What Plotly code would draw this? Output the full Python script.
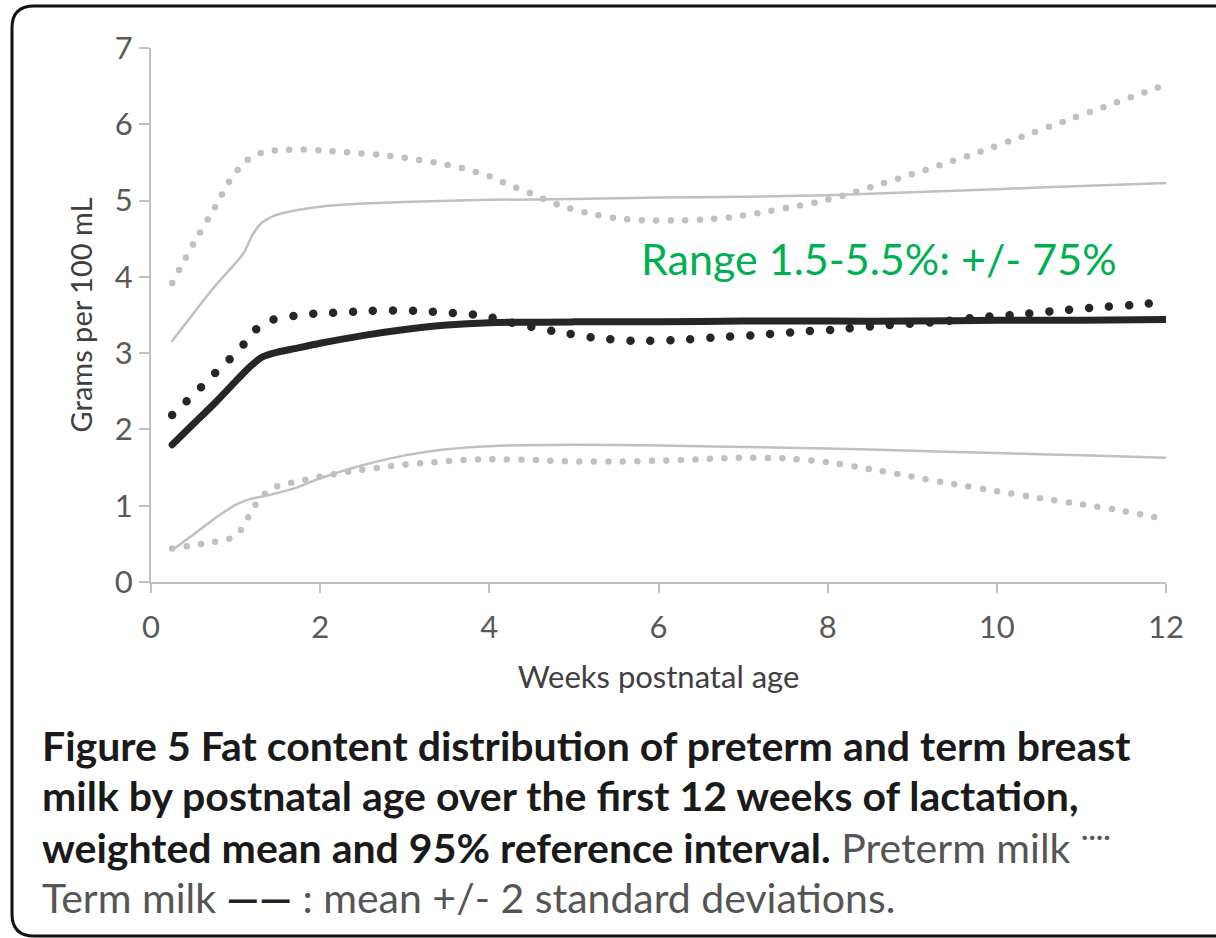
import plotly.graph_objects as go

# ---------------- data ----------------
term_mean_x = [0.25, 0.5, 0.75, 1.0, 1.15, 1.3, 1.45, 1.7, 2.0, 2.5, 3.0, 3.5, 4.0, 5, 6, 7, 8, 9, 10, 11, 12]
term_mean_y = [1.80, 2.07, 2.34, 2.63, 2.80, 2.94, 3.00, 3.06, 3.13, 3.23, 3.31, 3.37, 3.40, 3.41, 3.41, 3.42, 3.42, 3.42, 3.43, 3.43, 3.44]

term_upper_x = [0.25, 0.5, 0.75, 1.0, 1.1, 1.2, 1.3, 1.45, 1.7, 2.0, 2.5, 3, 4, 5, 6, 7, 8, 9, 10, 11, 12]
term_upper_y = [3.16, 3.52, 3.87, 4.18, 4.32, 4.55, 4.70, 4.80, 4.87, 4.92, 4.96, 4.98, 5.01, 5.02, 5.04, 5.05, 5.07, 5.11, 5.15, 5.19, 5.23]

term_lower_x = [0.25, 0.5, 0.75, 1.0, 1.15, 1.4, 1.7, 2.0, 2.5, 3.0, 3.5, 4, 5, 6, 7, 8, 9, 10, 11, 12]
term_lower_y = [0.42, 0.62, 0.83, 1.01, 1.08, 1.14, 1.23, 1.36, 1.53, 1.66, 1.74, 1.78, 1.80, 1.79, 1.77, 1.75, 1.72, 1.69, 1.66, 1.63]

pre_mean_x = [0.25, 0.42, 0.59, 0.76, 0.93, 1.1, 1.25, 1.45, 1.7, 1.95, 2.2, 2.5, 2.9, 3.2, 3.5, 3.85, 4.1, 4.3, 4.8, 5.25, 5.7, 6.2, 6.7, 7.2, 7.65, 8.1, 8.6, 9.3, 9.8, 10.3, 10.75, 11.2, 11.7, 12]
pre_mean_y = [2.19, 2.37, 2.55, 2.74, 2.92, 3.12, 3.32, 3.44, 3.49, 3.52, 3.53, 3.55, 3.56, 3.55, 3.53, 3.50, 3.45, 3.39, 3.28, 3.20, 3.16, 3.17, 3.21, 3.24, 3.28, 3.31, 3.36, 3.41, 3.47, 3.51, 3.56, 3.60, 3.64, 3.67]

pre_upper_x = [0.25, 0.5, 0.76, 0.93, 1.03, 1.15, 1.31, 1.5, 1.75, 2.0, 2.35, 2.7, 3.0, 3.35, 3.7, 4.0, 4.2, 4.5, 4.8, 5.15, 5.5, 5.85, 6.2, 6.5, 6.85, 7.2, 7.55, 7.88, 8.2, 8.55, 8.9, 9.4, 9.85, 10.3, 10.8, 11.3, 11.8, 12]
pre_upper_y = [3.92, 4.43, 4.92, 5.26, 5.41, 5.54, 5.63, 5.66, 5.67, 5.66, 5.63, 5.60, 5.56, 5.50, 5.42, 5.32, 5.22, 5.09, 4.95, 4.84, 4.77, 4.74, 4.74, 4.75, 4.78, 4.84, 4.91, 4.98, 5.07, 5.19, 5.31, 5.49, 5.66, 5.84, 6.04, 6.24, 6.44, 6.52]

pre_lower_x = [0.25, 0.6, 0.93, 1.06, 1.15, 1.24, 1.35, 1.5, 1.66, 2.0, 2.35, 2.7, 3.0, 3.35, 3.7, 4.0, 4.5, 5, 5.5, 6, 6.5, 7, 7.5, 8, 8.5, 9, 9.5, 10, 10.5, 11, 11.5, 12]
pre_lower_y = [0.44, 0.50, 0.57, 0.68, 0.85, 1.02, 1.16, 1.26, 1.30, 1.38, 1.45, 1.50, 1.54, 1.57, 1.60, 1.61, 1.60, 1.58, 1.58, 1.59, 1.61, 1.63, 1.62, 1.57, 1.48, 1.38, 1.28, 1.19, 1.10, 1.02, 0.93, 0.82]

x_ticks = [0, 2, 4, 6, 8, 10, 12]
y_ticks = [0, 1, 2, 3, 4, 5, 6, 7]

x_title = "Weeks postnatal age"
y_title = "Grams per 100 mL"
range_note = "Range 1.5-5.5%: +/- 75%"
caption_lines = [
    "<b>Figure 5 Fat content distribution of preterm and term breast</b>",
    "<b>milk by postnatal age over the first 12 weeks of lactation,</b>",
    "<b>weighted mean and 95% reference interval.</b> <span style='color:#555555'>Preterm milk <sup>····</sup></span>",
    "<span style='color:#555555'>Term milk </span><span style='color:#222222'><b>——</b></span><span style='color:#555555'> : mean +/- 2 standard deviations.</span>",
]

# ---------------- geometry ----------------
W, H = 1216, 938
L, R, T, B = 151, 1166, 48, 582


def px(x):
    return (x - L) / (R - L)


def py(y):
    return (B - y) / (B - T)


GRAY = "#c0c0c0"
DARK = "#262626"
FONT = "Lato, 'Open Sans', sans-serif"

fig = go.Figure()

fig.add_trace(go.Scatter(x=term_upper_x, y=term_upper_y, mode="lines",
                         line=dict(color=GRAY, width=2.5, shape="spline", smoothing=0.6)))
fig.add_trace(go.Scatter(x=term_lower_x, y=term_lower_y, mode="lines",
                         line=dict(color=GRAY, width=2.5, shape="spline", smoothing=0.6)))
fig.add_trace(go.Scatter(x=pre_upper_x, y=pre_upper_y, mode="lines",
                         line=dict(color=GRAY, width=6.5, dash="0px,14.5px", shape="spline", smoothing=0.6)))
fig.add_trace(go.Scatter(x=pre_lower_x, y=pre_lower_y, mode="lines",
                         line=dict(color=GRAY, width=6.5, dash="0px,14.5px", shape="spline", smoothing=0.6)))
fig.add_trace(go.Scatter(x=term_mean_x, y=term_mean_y, mode="lines",
                         line=dict(color=DARK, width=7, shape="spline", smoothing=0.6)))
fig.add_trace(go.Scatter(x=pre_mean_x, y=pre_mean_y, mode="lines",
                         line=dict(color=DARK, width=8.5, dash="0px,20px", shape="spline", smoothing=0.6)))

fig.update_layout(
    width=W, height=H,
    margin=dict(l=L, r=W - R, t=T, b=H - B),
    paper_bgcolor="white", plot_bgcolor="white",
    showlegend=False,
    font=dict(family=FONT, color="#595959"),
)

fig.update_xaxes(
    range=[0, 12], tickvals=x_ticks, ticktext=[str(v) for v in x_ticks],
    showgrid=False, zeroline=False, showline=True, linecolor="#bfbfbf", linewidth=2,
    ticks="outside", ticklen=9, tickwidth=1.5, tickcolor="#bfbfbf",
    ticklabelstandoff=8,
    tickfont=dict(size=31, color="#595959", family=FONT),
    title=dict(text=x_title, font=dict(size=31, color="#404040", family=FONT), standoff=22),
)
fig.update_yaxes(
    range=[0, 7], tickvals=y_ticks, ticktext=[str(v) for v in y_ticks],
    showgrid=False, zeroline=False, showline=True, linecolor="#bfbfbf", linewidth=2,
    ticks="outside", ticklen=10, tickwidth=1.5, tickcolor="#bfbfbf",
    tickfont=dict(size=31, color="#595959", family=FONT),
    title=dict(text=y_title, font=dict(size=29, color="#404040", family=FONT), standoff=14),
)

# green range note
fig.add_annotation(x=px(639), y=py(258), xref="paper", yref="paper",
                   xanchor="left", yanchor="middle", showarrow=False,
                   text=range_note, font=dict(size=43, color="#00b050", family=FONT))

# caption
cap_y = [745, 795, 845, 897]
for line, yy in zip(caption_lines, cap_y):
    fig.add_annotation(x=px(40), y=py(yy), xref="paper", yref="paper",
                       xanchor="left", yanchor="middle", showarrow=False,
                       text=line, font=dict(size=41, color="#1a1a1a", family=FONT))

# rounded border
x0, x1, y0, y1 = px(12), px(1240), py(6), py(936)
rx, ry = 22 / (R - L), 22 / (B - T)
path = (f"M {x0+rx},{y0} L {x1},{y0} L {x1},{y1} L {x0+rx},{y1} "
        f"Q {x0},{y1} {x0},{y1+ry} L {x0},{y0-ry} Q {x0},{y0} {x0+rx},{y0} Z")
fig.add_shape(type="path", path=path, xref="paper", yref="paper",
              line=dict(color="#111111", width=3), fillcolor="rgba(0,0,0,0)", layer="above")

post = ("var s=document.createElement('style');"
        "s.textContent='.scatterlayer .js-line{stroke-linecap:round !important;stroke-linejoin:round !important;}';"
        "document.head.appendChild(s);")
fig.write_html("out.html", post_script=post)
